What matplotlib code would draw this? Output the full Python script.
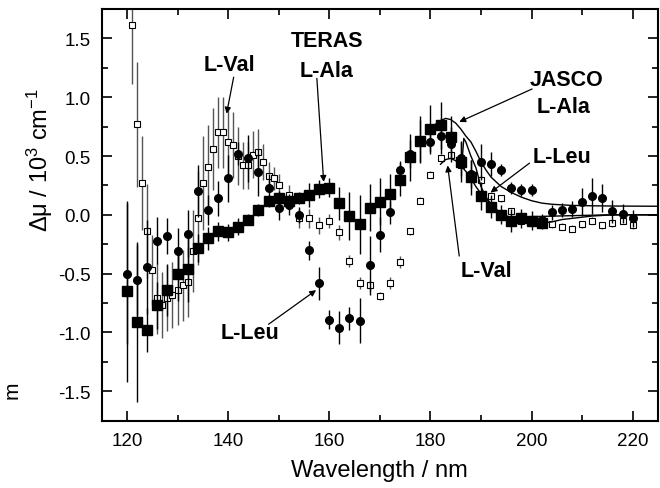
import matplotlib
matplotlib.use("Agg")
import matplotlib.pyplot as plt
from matplotlib.ticker import MultipleLocator

plt.rcParams['font.family'] = ['Liberation Sans', 'DejaVu Sans']
plt.rcParams['mathtext.fontset'] = 'custom'
plt.rcParams['mathtext.rm'] = 'Liberation Sans'
plt.rcParams['mathtext.it'] = 'Liberation Sans:italic'

# L-Val (TERAS), open squares
val_x = list(range(121, 151)) + list(range(152, 221, 2))
val_y = [1.61, 0.77, 0.27, -0.14, -0.47, -0.71, -0.77, -0.71, -0.68, -0.64,
         -0.60, -0.57, -0.31, -0.03, 0.27, 0.41, 0.56, 0.70, 0.70, 0.62,
         0.59, 0.50, 0.42, 0.42, 0.51, 0.53, 0.45, 0.33, 0.31, 0.25,
         0.17, -0.03, -0.03, -0.09, -0.05, -0.15, -0.39, -0.58, -0.60, -0.69,
         -0.58, -0.40, -0.14, 0.12, 0.34, 0.48, 0.51, 0.42, 0.33, 0.30,
         0.16, 0.14, 0.03, -0.05, -0.06, -0.07, -0.08, -0.10, -0.12, -0.08,
         -0.05, -0.09, -0.07, -0.05, -0.09]
val_err = [0.5, 0.53, 0.4, 0.4, 0.3, 0.3, 0.28, 0.28, 0.28, 0.3,
           0.3, 0.3, 0.35, 0.4, 0.4, 0.35, 0.35, 0.3, 0.3, 0.3,
           0.28, 0.25, 0.2, 0.2, 0.2, 0.2, 0.15, 0.12, 0.1, 0.1,
           0.08, 0.08, 0.08, 0.07, 0.06, 0.06, 0.05, 0.05, 0.05, 0.03,
           0.05, 0.05, 0.03, 0.03, 0.03, 0.03, 0.03, 0.03, 0.03, 0.04,
           0.03, 0.03, 0.03, 0.03, 0.03, 0.03, 0.03, 0.03, 0.03, 0.03,
           0.03, 0.03, 0.03, 0.03, 0.03]

# L-Ala (TERAS), filled squares
ala_x = list(range(120, 203, 2))
ala_y = [-0.65, -0.91, -0.98, -0.77, -0.64, -0.50, -0.46, -0.28, -0.20, -0.14,
         -0.15, -0.10, -0.04, 0.04, 0.12, 0.14, 0.12, 0.14, 0.17, 0.22,
         0.23, 0.10, -0.01, -0.08, 0.06, 0.11, 0.18, 0.30, 0.49, 0.63,
         0.73, 0.76, 0.66, 0.45, 0.32, 0.16, 0.07, 0.00, -0.05, -0.03,
         -0.05, -0.07]
ala_err = [0.77, 0.68, 0.19, 0.2, 0.22, 0.23, 0.28, 0.12, 0.1, 0.08,
           0.07, 0.07, 0.05, 0.05, 0.05, 0.06, 0.06, 0.05, 0.1, 0.08,
           0.08, 0.14, 0.2, 0.25, 0.2, 0.2, 0.17, 0.14, 0.2, 0.18,
           0.2, 0.2, 0.18, 0.17, 0.15, 0.12, 0.1, 0.08, 0.1, 0.08,
           0.08, 0.05]

# L-Leu (TERAS), filled circles
leu_x = list(range(120, 221, 2))
leu_y = [-0.50, -0.55, -0.44, -0.22, -0.18, -0.31, -0.16, 0.20, 0.04, 0.14,
         0.31, 0.52, 0.48, 0.36, 0.23, 0.06, 0.08, 0.00, -0.30, -0.58,
         -0.89, -0.96, -0.88, -0.90, -0.43, -0.17, 0.02, 0.38, 0.52, 0.64,
         0.62, 0.67, 0.60, 0.48, 0.35, 0.45, 0.43, 0.38, 0.23, 0.21,
         0.21, -0.04, 0.02, 0.04, 0.05, 0.11, 0.16, 0.14, 0.03, 0.01,
         -0.03]
leu_err = [0.6, 0.3, 0.4, 0.2, 0.15, 0.2, 0.2, 0.22, 0.13, 0.15,
           0.2, 0.1, 0.2, 0.2, 0.12, 0.1, 0.08, 0.07, 0.08, 0.14,
           0.08, 0.14, 0.1, 0.19, 0.25, 0.15, 0.1, 0.08, 0.12, 0.2,
           0.1, 0.15, 0.15, 0.15, 0.12, 0.15, 0.1, 0.05, 0.05, 0.05,
           0.05, 0.05, 0.06, 0.06, 0.07, 0.12, 0.15, 0.12, 0.1, 0.08,
           0.07]

# JASCO curves
jala_x = [180, 181, 182, 183, 184, 185, 186, 187, 188, 189, 190, 191, 192, 193,
          194, 196, 198, 200, 202, 204, 206, 208, 212, 216, 220, 225]
jala_y = [0.72, 0.77, 0.80, 0.82, 0.81, 0.78, 0.73, 0.67, 0.62, 0.54, 0.45, 0.38,
          0.32, 0.28, 0.24, 0.19, 0.15, 0.12, 0.10, 0.09, 0.085, 0.08, 0.077,
          0.075, 0.074, 0.073]
jval_x = [182, 183, 184, 185, 186, 187, 188, 189, 190, 191, 192, 193, 194, 195,
          196, 198, 200, 202, 204, 206, 208, 210, 212, 216, 220, 225]
jval_y = [0.43, 0.47, 0.48, 0.46, 0.42, 0.37, 0.31, 0.24, 0.18, 0.13, 0.09, 0.05,
          0.01, -0.02, -0.04, -0.06, -0.07, -0.07, -0.06, -0.04, -0.03, -0.02,
          -0.01, 0.0, 0.0, 0.0]
jleu_x = [186.2, 186.6, 187, 188, 189, 190, 191, 192, 193, 194, 195, 196, 198,
          200, 205, 210, 215, 220, 225]
jleu_y = [0.42, 0.65, 0.62, 0.50, 0.40, 0.24, 0.15, 0.09, 0.04, 0.0, -0.01,
          -0.02, -0.02, -0.015, -0.01, -0.005, 0.0, 0.0, 0.0]

fig = plt.figure(figsize=(6.6, 4.89), dpi=100)
ax = fig.add_axes([0.154, 0.1376, 0.843, 0.842])

ax.errorbar(val_x, val_y, yerr=val_err, fmt='s', ms=4.5, mfc='white', mec='black',
            mew=0.8, ecolor='#555555', elinewidth=1.0, capsize=0, zorder=2)
ax.errorbar(leu_x, leu_y, yerr=leu_err, fmt='o', ms=5.5, color='black',
            ecolor='black', elinewidth=1.0, capsize=0, zorder=3)
ax.errorbar(ala_x, ala_y, yerr=ala_err, fmt='s', ms=7, color='black',
            ecolor='black', elinewidth=1.0, capsize=0, zorder=4)

ax.plot(jala_x, jala_y, color='black', lw=1.0, zorder=5)
ax.plot(jval_x, jval_y, color='black', lw=1.0, zorder=5)
ax.plot(jleu_x, jleu_y, color='black', lw=1.0, zorder=5)

ax.set_xlim(115, 225)
ax.set_ylim(-1.75, 1.75)
ax.xaxis.set_major_locator(MultipleLocator(20))
ax.xaxis.set_minor_locator(MultipleLocator(10))
ax.yaxis.set_major_locator(MultipleLocator(0.5))
ax.yaxis.set_minor_locator(MultipleLocator(0.25))
ax.yaxis.set_major_formatter(plt.FuncFormatter(lambda v, p: '%.1f' % v))
ax.tick_params(which='both', direction='in', top=True, right=True, width=1.2,
               labelsize=13.5)
ax.tick_params(which='major', length=7, pad=8)
ax.tick_params(which='minor', length=4)
for s in ax.spines.values():
    s.set_linewidth(1.5)

ax.set_xlabel('Wavelength / nm', fontsize=17, labelpad=7)
fig.text(40 / 660, 1 - 160 / 489, 'Δμ / 10$^3$ cm$^{-1}$', rotation=90,
         ha='center', va='center', fontsize=17)
fig.text(0.004, 1 - 390 / 489, 'm', rotation=90, ha='left', va='center', fontsize=15)

bold = dict(fontsize=15.5, fontweight='bold', ha='center', va='center', zorder=6)
ax.text(140.2, 1.28, 'L-Val', **bold)
ax.text(159.6, 1.48, 'TERAS', **bold)
ax.text(159.4, 1.23, 'L-Ala', **bold)
ax.text(144.3, -1.0, 'L-Leu', **bold)
ax.text(206.9, 1.15, 'JASCO', **bold)
ax.text(206.4, 0.92, 'L-Ala', **bold)
ax.text(206.0, 0.50, 'L-Leu', **bold)
ax.text(191.1, -0.47, 'L-Val', **bold)

arrow = dict(arrowstyle='-|>', lw=0.9, color='black', mutation_scale=9,
             shrinkA=0, shrinkB=0)
for start, tip in [((141.1, 1.17), (139.7, 0.86)),
                   ((157.55, 1.16), (158.9, 0.28)),
                   ((148.0, -0.93), (157.4, -0.64)),
                   ((200.1, 1.07), (185.7, 0.79)),
                   ((199.6, 0.44), (191.9, 0.19)),
                   ((185.7, -0.35), (183.4, 0.42))]:
    ax.annotate('', xy=tip, xytext=start, arrowprops=arrow, zorder=6)

fig.savefig('out.png', dpi=100)
